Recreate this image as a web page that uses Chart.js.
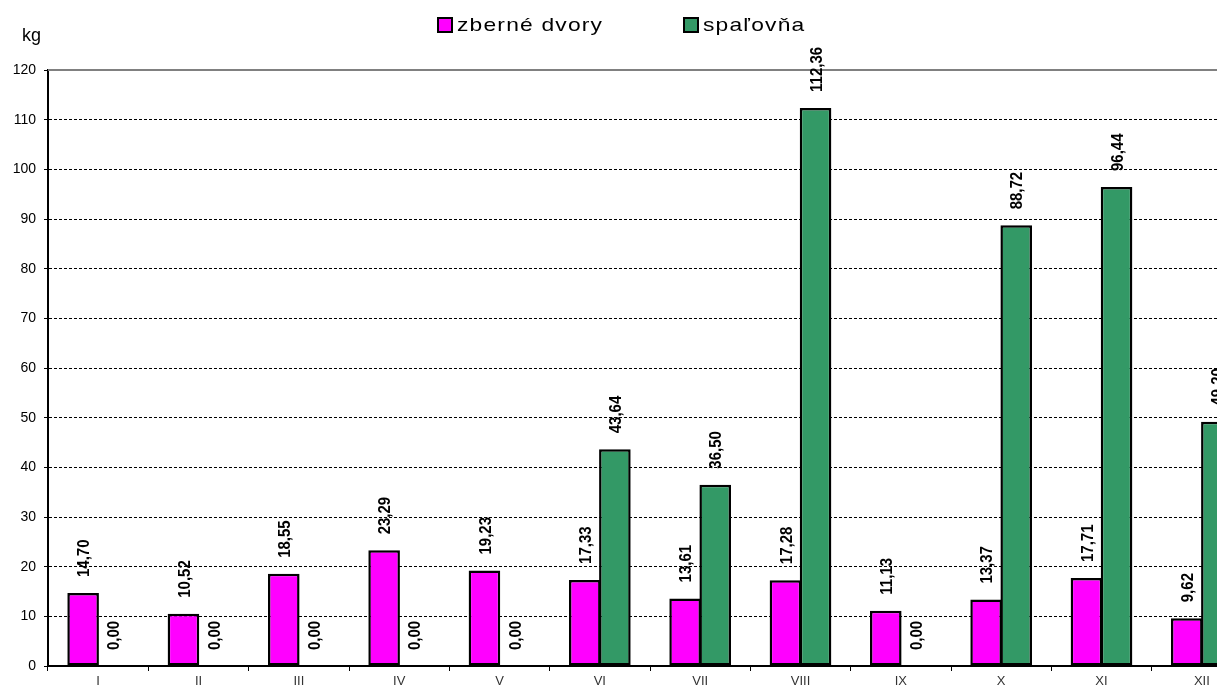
<!DOCTYPE html>
<html>
<head>
<meta charset="utf-8">
<script src="https://cdn.jsdelivr.net/npm/chart.js@4.4.1/dist/chart.umd.min.js"></script>
<style>
    html, body { margin: 0; padding: 0; background: #fff; overflow: hidden; }
    body { width: 1217px; height: 689px; position: relative; font-family: "Liberation Sans", Arial, sans-serif; }
    #wrap { position: absolute; left: 0; top: 0; width: 1260px; height: 689px; }
    .unit { position: absolute; left: 22px; top: 25px; font-size: 18px; color: #000; }
    .legend { position: absolute; top: 13px; height: 24px; display: flex; align-items: center; }
    .legend .box { width: 12px; height: 12px; border: 2px solid #000; margin-right: 4px; }
    .legend .txt { font-size: 19px; letter-spacing: 1px; transform: scaleX(1.2); transform-origin: left center; color: #000; }
</style>
</head>
<body>
<div id="wrap"><canvas id="wasteChart"></canvas></div>
<div class="unit">kg</div>
<div class="legend" style="left:437px"><span class="box" style="background:#ff00ff"></span><span class="txt">zberné dvory</span></div>
<div class="legend" style="left:683px"><span class="box" style="background:#339966"></span><span class="txt">spaľovňa</span></div>

<script>
// --- Data ---
const MONTHS = ['I', 'II', 'III', 'IV', 'V', 'VI', 'VII', 'VIII', 'IX', 'X', 'XI', 'XII'];
const ZBERNE_DVORY = [14.70, 10.52, 18.55, 23.29, 19.23, 17.33, 13.61, 17.28, 11.13, 13.37, 17.71, 9.62];
const SPALOVNA = [0.00, 0.00, 0.00, 0.00, 0.00, 43.64, 36.50, 112.36, 0.00, 88.72, 96.44, 49.20];
const Y_MIN = 0, Y_MAX = 120, Y_STEP = 10;

const FONT = '"Liberation Sans", Arial, sans-serif';

// value labels above bars, rotated like in Excel
const valueLabels = {
    id: 'valueLabels',
    afterDatasetsDraw(chart) {
        const ctx = chart.ctx;
        const size = 15;
        ctx.save();
        ctx.fillStyle = '#000';
        ctx.font = 'bold ' + size + 'px ' + FONT;
        ctx.textAlign = 'left';
        ctx.textBaseline = 'alphabetic';
        chart.data.datasets.forEach((ds, di) => {
            const meta = chart.getDatasetMeta(di);
            meta.data.forEach((bar, i) => {
                const txt = ds.data[i].toFixed(2).replace('.', ',');
                ctx.save();
                ctx.translate(bar.x, bar.y - 16);
                ctx.rotate(-Math.PI / 2);
                ctx.scale(1, 1.15);
                ctx.fillText(txt, 0, size * 0.36);
                ctx.restore();
            });
        });
        ctx.restore();
    }
};

// solid grey frame line on top of the plot area
const topFrame = {
    id: 'topFrame',
    beforeDatasetsDraw(chart) {
        const { ctx, chartArea } = chart;
        ctx.save();
        ctx.strokeStyle = '#808080';
        ctx.lineWidth = 2;
        ctx.beginPath();
        ctx.moveTo(chartArea.left, chartArea.top);
        ctx.lineTo(chartArea.right + 10, chartArea.top);
        ctx.stroke();
        ctx.restore();
    }
};

new Chart(document.getElementById('wasteChart'), {
    type: 'bar',
    data: {
        labels: MONTHS,
        datasets: [
            {
                label: 'zberné dvory',
                data: ZBERNE_DVORY,
                backgroundColor: '#ff00ff',
                borderColor: '#000',
                borderWidth: 2.5,
                borderSkipped: false,
                inflateAmount: 0
            },
            {
                label: 'spaľovňa',
                data: SPALOVNA,
                backgroundColor: '#339966',
                borderColor: '#000',
                borderWidth: 2.5,
                borderSkipped: false,
                inflateAmount: 0
            }
        ]
    },
    options: {
        responsive: true,
        maintainAspectRatio: false,
        animation: false,
        layout: { padding: { top: 70, left: 0, right: 8, bottom: 0 } },
        datasets: { bar: { categoryPercentage: 0.6, barPercentage: 1.05 } },
        plugins: { legend: { display: false }, tooltip: { enabled: false } },
        scales: {
            x: {
                afterFit: s => { s.height = 23; },
                grid: { drawOnChartArea: false, drawTicks: true, tickLength: 5, tickColor: '#000', tickWidth: 1 },
                border: { color: '#000', width: 2 },
                ticks: { color: '#333', font: { family: FONT, size: 13 }, padding: 3, maxRotation: 0 }
            },
            y: {
                min: Y_MIN,
                max: Y_MAX,
                afterFit: s => { s.width = 48; },
                grid: {
                    color: c => (c.tick && (c.tick.value === Y_MAX || c.tick.value === Y_MIN)) ? 'rgba(0,0,0,0)' : '#000',
                    lineWidth: 1,
                    tickLength: 4,
                    tickColor: '#000',
                    tickWidth: 1,
                    tickBorderDash: []
                },
                border: { color: '#000', width: 2, dash: [3, 2] },
                ticks: { stepSize: Y_STEP, color: '#000', font: { family: FONT, size: 14 }, padding: 8 }
            }
        }
    },
    plugins: [topFrame, valueLabels]
});
</script>
</body>
</html>
